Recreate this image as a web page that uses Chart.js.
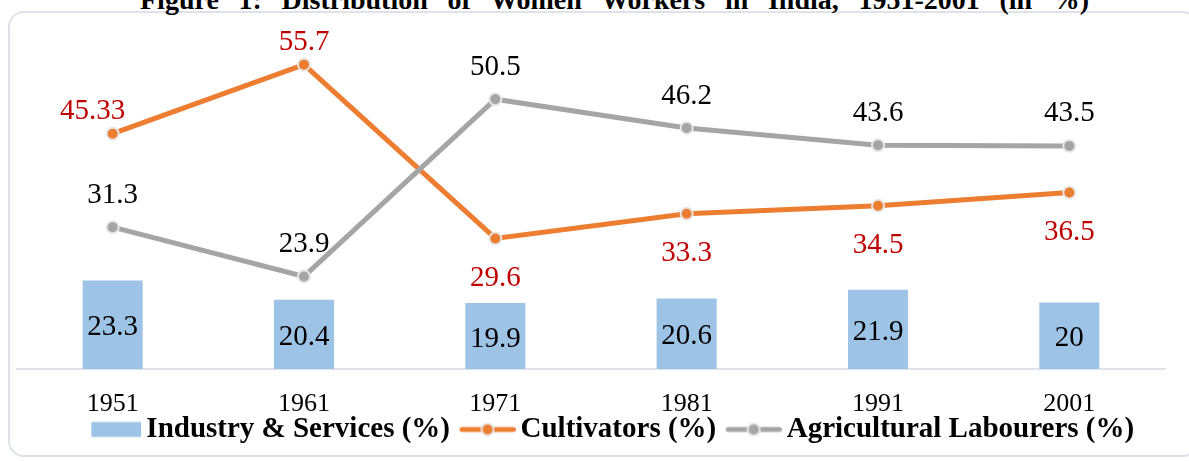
<!DOCTYPE html>
<html>
<head>
<meta charset="utf-8">
<script src="https://cdn.jsdelivr.net/npm/chart.js@4.4.1/dist/chart.umd.min.js"></script>
<style>
  html, body { margin: 0; padding: 0; background: #ffffff; }
  body { width: 1189px; height: 461px; position: relative; overflow: hidden; }
  #frame { position: absolute; left: 8px; top: 11px; width: 1190px; height: 446px;
           border: 2px solid #dfe3e9; border-radius: 16px; box-sizing: border-box; }
  #title { position: absolute; left: 140px; top: -16px; line-height: 28px; white-space: nowrap;
           font: bold 28px "Liberation Serif", "Times New Roman", serif; word-spacing: 12.7px; color: #000; }
  #c { position: absolute; left: 0; top: 0; }
</style>
</head>
<body>
<div id="frame"></div>
<div id="title">Figure 1: Distribution of Women Workers in India, 1951-2001 (in %)</div>
<canvas id="c" width="1189" height="461"></canvas>
<script>
// ---- data ----
const years = ['1951', '1961', '1971', '1981', '1991', '2001'];
const industryServices = [23.3, 20.4, 19.9, 20.6, 21.9, 20];
const cultivators = [45.33, 55.7, 29.6, 33.3, 34.5, 36.5];
const agriLabourers = [31.3, 23.9, 50.5, 46.2, 43.6, 43.5];
const seriesNames = ['Industry & Services (%)', 'Cultivators (%)', 'Agricultural Labourers (%)'];

const BLUE = '#9dc3e6', ORANGE = '#ed7d31', GRAY = '#a5a5a5', RED = '#c00000';
const SERIF = '"Liberation Serif", "Times New Roman", serif';

// legend symbols (image wider than the legend box; content right-aligned)
function makeSymbol(kind, color) {
  const cv = document.createElement('canvas');
  cv.width = 75; cv.height = 20;
  const g = cv.getContext('2d');
  if (kind === 'bar') {
    g.fillStyle = color;
    g.fillRect(25, 2.5, 50, 15);
  } else {
    g.strokeStyle = color; g.lineWidth = 5; g.lineCap = 'round';
    g.beginPath(); g.moveTo(21.5, 10); g.lineTo(72.5, 10); g.stroke();
    g.beginPath(); g.arc(47, 10, 6, 0, Math.PI * 2);
    g.fillStyle = color; g.fill();
    g.lineWidth = 2; g.strokeStyle = '#e6e6e6'; g.stroke();
  }
  return cv;
}
const symbols = [makeSymbol('bar', BLUE), makeSymbol('line', ORANGE), makeSymbol('line', GRAY)];

const labelPlugin = {
  id: 'valueLabels',
  afterLayout(chart) {
    if (chart.legend) { chart.legend.left += 14; chart.legend.right += 14; }
  },
  afterDatasetsDraw(chart) {
    const ctx = chart.ctx;
    const bottom = chart.chartArea.bottom;
    ctx.save();
    ctx.font = '29px ' + SERIF;
    ctx.textAlign = 'center';
    ctx.textBaseline = 'middle';
    chart.data.datasets.forEach((ds, di) => {
      const meta = chart.getDatasetMeta(di);
      meta.data.forEach((el, i) => {
        const v = ds.data[i];
        const txt = String(v);
        let x = el.x, y;
        if (di === 0) {
          y = (el.y + Math.min(el.base, bottom)) / 2 + 3;
          ctx.fillStyle = '#000';
        } else if (di === 1) {
          ctx.fillStyle = RED;
          const above = v > agriLabourers[i];
          y = above ? el.y - 22 : el.y + 40;
          if (i === 0) x -= 20;
        } else {
          ctx.fillStyle = '#000';
          y = el.y - 32;
        }
        ctx.fillText(txt, x, y);
      });
    });
    ctx.restore();
  }
};

const chart = new Chart(document.getElementById('c'), {
  type: 'bar',
  data: {
    labels: years,
    datasets: [
      { type: 'bar', label: seriesNames[0], data: industryServices, backgroundColor: BLUE,
        categoryPercentage: 1, barPercentage: 0.314, order: 3 },
      { type: 'line', label: seriesNames[1], data: cultivators, borderColor: ORANGE, backgroundColor: ORANGE,
        borderWidth: 5, tension: 0, pointRadius: 6, pointBorderWidth: 2, pointBorderColor: '#e6e6e6',
        pointBackgroundColor: ORANGE, order: 2 },
      { type: 'line', label: seriesNames[2], data: agriLabourers, borderColor: GRAY, backgroundColor: GRAY,
        borderWidth: 5, tension: 0, pointRadius: 6, pointBorderWidth: 2, pointBorderColor: '#e6e6e6',
        pointBackgroundColor: GRAY, order: 1 }
    ]
  },
  options: {
    responsive: false,
    animation: false,
    devicePixelRatio: 1,
    layout: { padding: { top: 36, left: 17, right: 24, bottom: 7 } },
    plugins: {
      tooltip: { enabled: false },
      title: { display: false },
      legend: {
        position: 'bottom',
        labels: {
          usePointStyle: true,
          pointStyleWidth: 56,
          padding: 0,
          color: '#000',
          font: { family: SERIF, size: 29, weight: 'bold' },
          generateLabels(chart) {
            return chart.data.datasets.map((ds, i) => ({
              text: ds.label, pointStyle: symbols[i], fillStyle: 'transparent',
              strokeStyle: 'transparent', lineWidth: 0, hidden: false, datasetIndex: i, fontColor: '#000'
            }));
          }
        }
      }
    },
    scales: {
      x: {
        grid: { display: false, drawTicks: false },
        border: { display: true, color: '#dfe3e9', width: 2 },
        ticks: { color: '#000', padding: 22, font: { family: SERIF, size: 26, lineHeight: 1 } },
        afterFit(scale) { scale.height = 46; }
      },
      y: { display: false, min: 10, max: 60 }
    }
  },
  plugins: [labelPlugin]
});
</script>
</body>
</html>
